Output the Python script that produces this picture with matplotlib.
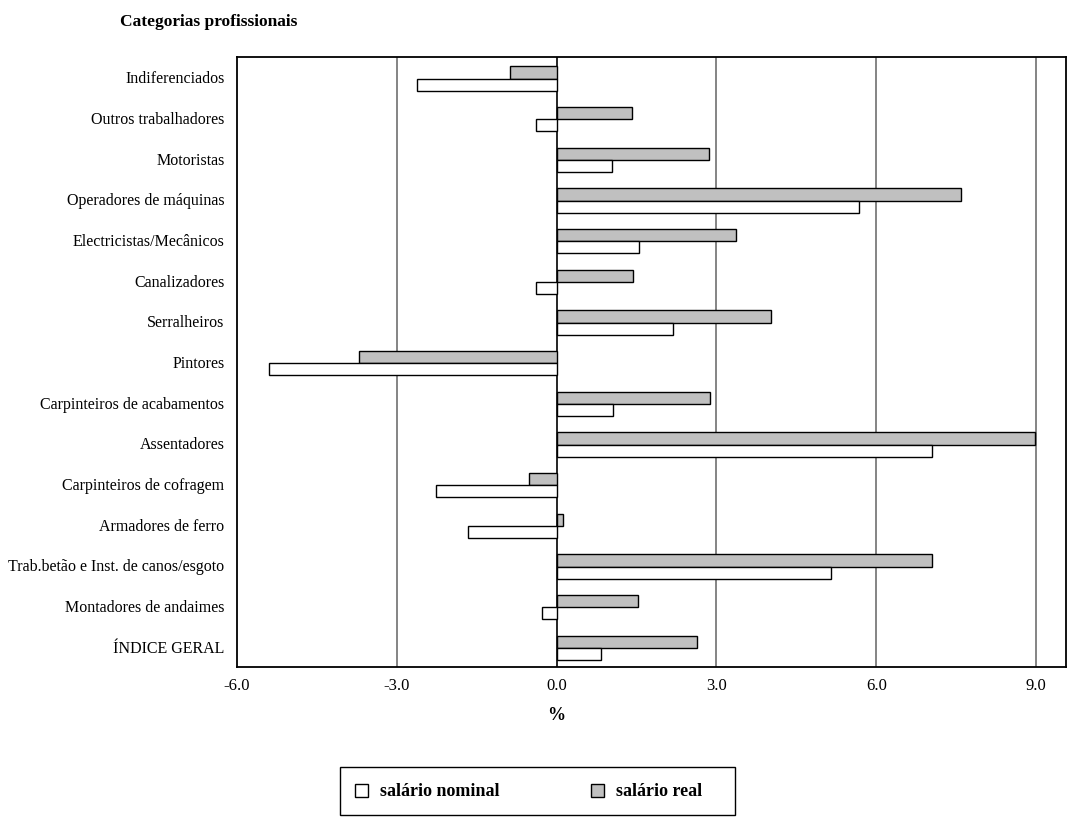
import matplotlib
matplotlib.use("Agg")
import matplotlib.pyplot as plt
import numpy as np
from matplotlib.patches import Patch, Rectangle

plt.rcParams['font.family'] = ['Liberation Serif', 'DejaVu Serif']

categorias = [
    "Indiferenciados",
    "Outros trabalhadores",
    "Motoristas",
    "Operadores de máquinas",
    "Electricistas/Mecânicos",
    "Canalizadores",
    "Serralheiros",
    "Pintores",
    "Carpinteiros de acabamentos",
    "Assentadores",
    "Carpinteiros de cofragem",
    "Armadores de ferro",
    "Trab.betão e Inst. de canos/esgoto",
    "Montadores de andaimes",
    "ÍNDICE GERAL",
]
salario_real = [-0.88, 1.42, 2.85, 7.58, 3.37, 1.44, 4.03, -3.71, 2.88, 8.97,
                -0.52, 0.12, 7.04, 1.52, 2.63]
salario_nominal = [-2.63, -0.39, 1.03, 5.68, 1.54, -0.38, 2.18, -5.40, 1.05, 7.04,
                   -2.26, -1.66, 5.14, -0.28, 0.83]
x_ticks = [-6.0, -3.0, 0.0, 3.0, 6.0, 9.0]

fig = plt.figure(figsize=(10.8, 8.4), dpi=100)
ax = fig.add_axes([237 / 1080, 1 - 667 / 840, (1066 - 237) / 1080, (667 - 57) / 840])

y = np.arange(len(categorias))
h = 0.3
ax.barh(y - h / 2 + 0.03, salario_real, height=h, color="#C0C0C0",
        edgecolor="black", linewidth=1.0, zorder=3)
ax.barh(y + h / 2 + 0.03, salario_nominal, height=h, color="white",
        edgecolor="black", linewidth=1.0, zorder=3)

xmin, xmax = -6.0, 9.56
ax.set_ylim(len(categorias) - 0.5, -0.5)
ax.set_xlim(xmin, xmax)

ax.set_yticks(y)
ax.set_yticklabels(categorias, fontsize=11.5)
ax.tick_params(axis="y", length=0, pad=9)
ax.set_xticks(x_ticks)
ax.set_xticklabels([f"{v:.1f}" for v in x_ticks], fontsize=12)
ax.tick_params(axis="x", length=0, pad=8)

for v in x_ticks[1:]:
    if v == 0:
        ax.axvline(v, color="black", linewidth=1.2, zorder=2)
    else:
        ax.axvline(v, color="#707070", linewidth=1.2, zorder=1)

for s in ax.spines.values():
    s.set_color("black")
    s.set_linewidth(1.3)

# "%" sits under the zero line
ax.set_xlabel("%", fontsize=13, fontweight="bold")
ax.xaxis.set_label_coords((0 - xmin) / (xmax - xmin), -0.066)

fig.text(120 / 1080, 1 - 22 / 840, "Categorias profissionais", fontsize=12.5,
         fontweight="bold", ha="left", va="center")

# legend box below the chart
fig.add_artist(Rectangle((340 / 1080, 1 - 815 / 840), 395 / 1080, 48 / 840,
                         transform=fig.transFigure, fill=False,
                         edgecolor="black", linewidth=1.0))
handles = [Patch(facecolor="white", edgecolor="black", linewidth=1.0),
           Patch(facecolor="#C0C0C0", edgecolor="black", linewidth=1.0)]
leg = fig.legend(handles, ["salário nominal", "salário real"],
                 loc="center left", ncol=2,
                 bbox_to_anchor=(355 / 1080, 1 - 792 / 840),
                 frameon=False,
                 prop={"weight": "bold", "size": 13},
                 handlelength=0.7, handleheight=0.7, handletextpad=0.7,
                 borderpad=0, columnspacing=5.05, borderaxespad=0)

fig.savefig("out.png", dpi=100, facecolor="white")
